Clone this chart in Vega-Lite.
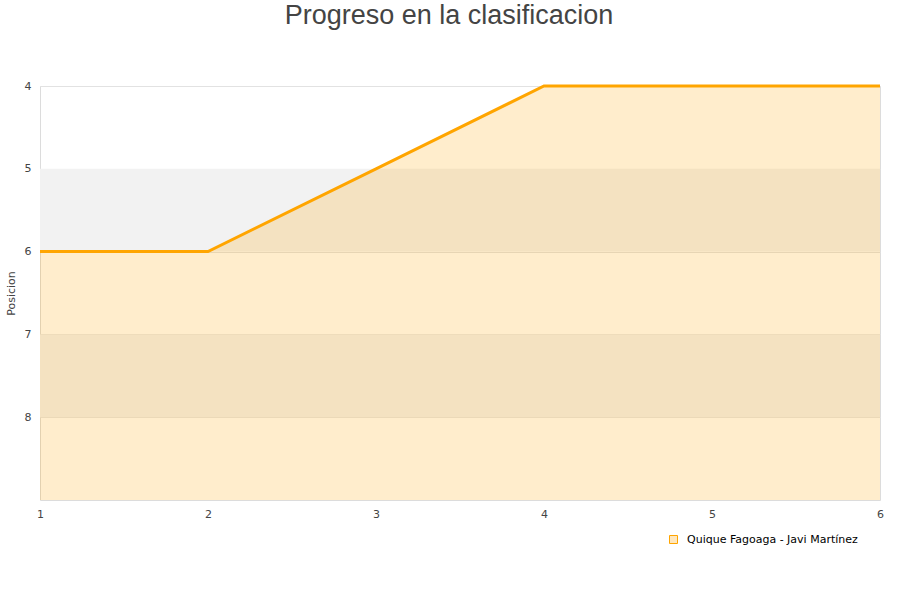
{
  "$schema": "https://vega.github.io/schema/vega-lite/v6.json",
  "autosize": {"type": "none"},
  "width": 840,
  "height": 414,
  "padding": {"left": 40, "top": 86, "right": 20, "bottom": 100},
  "background": "white",
  "title": {
    "text": "Progreso en la clasificacion",
    "font": "Liberation Sans",
    "fontSize": 27,
    "fontWeight": "normal",
    "color": "#444444",
    "anchor": "middle",
    "frame": "group",
    "dx": -11,
    "offset": 50
  },
  "config": {
    "view": {"stroke": "#dcdcdc", "strokeWidth": 1},
    "axis": {
      "labelFont": "DejaVu Sans",
      "labelFontSize": 11,
      "labelColor": "#444444",
      "titleFont": "DejaVu Sans",
      "titleFontSize": 11,
      "titleFontWeight": "normal",
      "titleColor": "#444444",
      "domain": false,
      "ticks": false
    }
  },
  "datasets": {
    "bands": [
      {"desde": 5, "hasta": 6},
      {"desde": 7, "hasta": 8}
    ],
    "serie": [
      {"jornada": 1, "posicion": 6, "equipo": "Quique Fagoaga - Javi Martínez"},
      {"jornada": 2, "posicion": 6, "equipo": "Quique Fagoaga - Javi Martínez"},
      {"jornada": 3, "posicion": 5, "equipo": "Quique Fagoaga - Javi Martínez"},
      {"jornada": 4, "posicion": 4, "equipo": "Quique Fagoaga - Javi Martínez"},
      {"jornada": 5, "posicion": 4, "equipo": "Quique Fagoaga - Javi Martínez"},
      {"jornada": 6, "posicion": 4, "equipo": "Quique Fagoaga - Javi Martínez"}
    ]
  },
  "layer": [
    {
      "data": {"name": "bands"},
      "mark": {"type": "rect", "color": "#f2f2f2"},
      "encoding": {
        "y": {"field": "desde", "type": "quantitative", "scale": {"domain": [4, 9], "reverse": true, "zero": false, "nice": false},
          "axis": {"values": [4, 5, 6, 7, 8], "format": "d", "title": "Posicion", "grid": true, "gridColor": "#e2e2e2", "labelPadding": 9, "titlePadding": 8}},
        "y2": {"field": "hasta"}
      }
    },
    {
      "data": {"name": "serie"},
      "mark": {"type": "area", "color": "#ffa500", "fillOpacity": 0.2, "line": false},
      "encoding": {
        "x": {"field": "jornada", "type": "quantitative", "scale": {"domain": [1, 6], "nice": false, "zero": false},
          "axis": {"values": [1, 2, 3, 4, 5, 6], "title": null, "grid": false, "labelFlush": false, "labelOverlap": false, "labelPadding": 8, "format": "d"}},
        "y": {"field": "posicion", "type": "quantitative"},
        "y2": {"datum": 9}
      }
    },
    {
      "data": {"name": "serie"},
      "mark": {"type": "line", "strokeWidth": 3},
      "encoding": {
        "x": {"field": "jornada", "type": "quantitative"},
        "y": {"field": "posicion", "type": "quantitative"},
        "color": {
          "field": "equipo", "type": "nominal",
          "scale": {"range": ["#ffa500"]},
          "legend": {
            "title": null,
            "orient": "none",
            "legendX": 628,
            "legendY": 448,
            "symbolType": "square",
            "symbolSize": 64,
            "labelFont": "DejaVu Sans",
            "labelFontSize": 11,
            "labelColor": "#000000",
            "labelOffset": 8,
            "labelLimit": 400,
            "encode": {
              "symbols": {
                "update": {
                  "fill": {"value": "#ffe7bd"},
                  "stroke": {"value": "#8a8a8a"},
                  "strokeWidth": {"value": 1}
                }
              }
            }
          }
        }
      }
    }
  ]
}
